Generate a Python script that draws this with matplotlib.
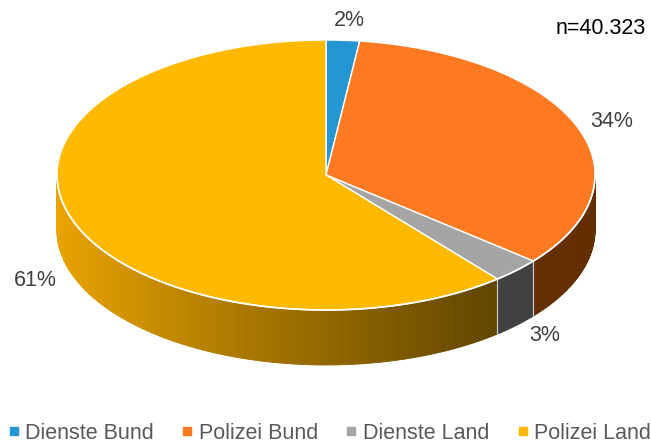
import numpy as np
import matplotlib
matplotlib.use("Agg")
import matplotlib.pyplot as plt
from matplotlib.patches import Polygon
from matplotlib.lines import Line2D

plt.rcParams['font.family'] = ['Liberation Sans', 'DejaVu Sans']

categories = ["Dienste Bund", "Polizei Bund", "Dienste Land", "Polizei Land"]
values = [2, 34, 3, 61]
labels = ["2%", "34%", "3%", "61%"]
n_text = "n=40.323"

top_colors = ["#2596D4", "#FD7A22", "#A5A5A5", "#FFB900"]
side_dark = [(0.08, 0.35, 0.52), (0.39, 0.18, 0.0), (0.25, 0.25, 0.25), None]

W, H = 651, 444
fig = plt.figure(figsize=(W / 100, H / 100), dpi=100)
ax = fig.add_axes([0, 0, 1, 1])
ax.set_xlim(0, W)
ax.set_ylim(H, 0)
ax.axis('off')

cx, cy, rx, ry, depth = 326, 175, 269, 135, 55

def pt(t):
    return cx + rx * np.sin(t), cy - ry * np.cos(t)

total = float(sum(values))
bounds = np.concatenate([[0], np.cumsum(values)]) / total * 2 * np.pi

# side walls (visible front half: t in [pi/2, 3pi/2])
ylw_left = np.array([234, 164, 0]) / 255
ylw_right = np.array([98, 70, 0]) / 255
for i in range(len(values)):
    a0, a1 = max(bounds[i], np.pi / 2), min(bounds[i + 1], 3 * np.pi / 2)
    if a1 <= a0:
        continue
    ts = np.linspace(a0, a1, max(3, int((a1 - a0) / 0.01)))
    for j in range(len(ts) - 1):
        t0, t1 = ts[j], ts[j + 1]
        x0, y0 = pt(t0)
        x1, y1 = pt(t1)
        if side_dark[i] is None:
            f = np.clip(((x0 + x1) / 2 - (cx - rx)) / (rx * 1.62), 0, 1)
            f = f ** 0.9
            col = ylw_left * (1 - f) + ylw_right * f
        else:
            col = side_dark[i]
        ax.add_patch(Polygon([(x0, y0), (x1, y1), (x1, y1 + depth), (x0, y0 + depth)],
                             closed=True, facecolor=col, edgecolor=col, lw=0.6, zorder=1))
    for b in (bounds[i], bounds[i + 1]):
        if np.pi / 2 < b < 3 * np.pi / 2:
            bx, by = pt(b)
            ax.plot([bx, bx], [by, by + depth], color="#C8C8C8", lw=0.8, zorder=2)

# top faces
for i in range(len(values)):
    ts = np.linspace(bounds[i], bounds[i + 1], 200)
    xs, ys = pt(ts)
    poly = [(cx, cy)] + list(zip(xs, ys))
    ax.add_patch(Polygon(poly, closed=True, facecolor=top_colors[i],
                         edgecolor="white", lw=1.0, joinstyle='round', zorder=3))

# white rim along the front edge
tr = np.linspace(np.pi / 2, 3 * np.pi / 2, 300)
xr, yr = pt(tr)
ax.plot(xr, yr, color="white", lw=1.2, zorder=4)

txtc = "#404040"
fs = 15.5
label_pos = [(349, 20), (612, 121), (545, 335), (35, 280)]
for lab, (lx, ly) in zip(labels, label_pos):
    ax.text(lx, ly, lab, fontsize=fs, color=txtc, ha='center', va='center', zorder=5)
ax.text(646, 28, n_text, fontsize=fs, color="black", ha='right', va='center')

handles = [Line2D([], [], marker='s', linestyle='none', markersize=5.2,
                  markerfacecolor=c, markeredgecolor=c) for c in top_colors]
leg = ax.legend(handles, categories, loc='center', bbox_to_anchor=(0.5 + 5 / W, 1 - 433.5 / H),
                bbox_transform=fig.transFigure, ncol=4, frameon=False, fontsize=fs,
                handlelength=0.35, handletextpad=0.35, columnspacing=1.38,
                borderaxespad=0, borderpad=0)
for t in leg.get_texts():
    t.set_color("#595959")

fig.savefig("out.png", dpi=100)
